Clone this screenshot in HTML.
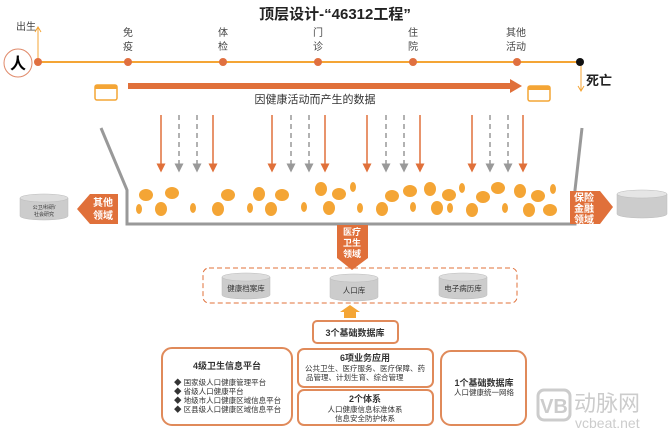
<!DOCTYPE html>
<html><head><meta charset="utf-8"><style>
html,body{margin:0;padding:0;background:#fff;}
svg{display:block;font-family:"Liberation Sans","Noto Sans CJK SC",sans-serif;}
</style></head><body>
<svg width="669" height="435" viewBox="0 0 669 435" xmlns="http://www.w3.org/2000/svg">
<defs>
<marker id="ao" markerWidth="6" markerHeight="6" refX="3" refY="3" orient="auto"><path d="M0,0 L6,3 L0,6z" fill="#e0703a"/></marker>
<marker id="ag" markerWidth="6" markerHeight="6" refX="3" refY="3" orient="auto"><path d="M0,0 L6,3 L0,6z" fill="#999"/></marker>
</defs>
<text x="335" y="19" font-size="15" font-weight="bold" text-anchor="middle" fill="#222">顶层设计-“46312工程”</text>
<!-- timeline -->
<circle cx="18" cy="63" r="14" fill="#fff" stroke="#e08a6a" stroke-width="1"/>
<text x="18" y="69" font-size="16" font-weight="bold" text-anchor="middle">人</text>
<line x1="38" y1="62" x2="578" y2="62" stroke="#f4a535" stroke-width="2"/>
<line x1="38" y1="62" x2="38" y2="28" stroke="#f4a535" stroke-width="1"/>
<path d="M35,32 L38,27 L41,32" fill="none" stroke="#f4a535"/>
<text x="26" y="30" font-size="10" text-anchor="middle" fill="#444">出生</text>
<g fill="#e07040"><circle cx="38" cy="62" r="4"/><circle cx="128" cy="62" r="4"/><circle cx="223" cy="62" r="4"/><circle cx="318" cy="62" r="4"/><circle cx="413" cy="62" r="4"/><circle cx="517" cy="62" r="4"/></g>
<circle cx="580" cy="62" r="4" fill="#111"/>
<g font-size="10" fill="#444" text-anchor="middle">
<text x="128" y="36">免</text><text x="128" y="50">疫</text>
<text x="223" y="36">体</text><text x="223" y="50">检</text>
<text x="318" y="36">门</text><text x="318" y="50">诊</text>
<text x="413" y="36">住</text><text x="413" y="50">院</text>
<text x="516" y="36">其他</text><text x="516" y="50">活动</text>
</g>
<line x1="581" y1="66" x2="581" y2="90" stroke="#f4a535" stroke-width="1"/>
<path d="M578,86 L581,91 L584,86" fill="none" stroke="#f4a535"/>
<text x="586" y="85" font-size="13" font-weight="bold" fill="#222">死亡</text>
<rect x="128" y="83" width="384" height="6" fill="#e0703a"/>
<path d="M510,79 L522,86 L510,93z" fill="#e0703a"/>
<rect x="95" y="85" width="22" height="15" rx="2" fill="#fff" stroke="#f4a535" stroke-width="1.5"/>
<rect x="95" y="85" width="22" height="4" fill="#f4a535"/>
<rect x="528" y="86" width="22" height="15" rx="2" fill="#fff" stroke="#f4a535" stroke-width="1.5"/>
<rect x="528" y="86" width="22" height="4" fill="#f4a535"/>
<text x="315" y="103" font-size="11" text-anchor="middle" fill="#333">因健康活动而产生的数据</text>
<!-- arrows -->
<g stroke="#e0703a" stroke-width="1.5" marker-end="url(#ao)">
<line x1="161" y1="115" x2="161" y2="168"/><line x1="213" y1="115" x2="213" y2="168"/>
<line x1="272" y1="115" x2="272" y2="168"/><line x1="325" y1="115" x2="325" y2="168"/>
<line x1="367" y1="115" x2="367" y2="168"/><line x1="420" y1="115" x2="420" y2="168"/>
<line x1="472" y1="115" x2="472" y2="168"/><line x1="523" y1="115" x2="523" y2="168"/>
</g>
<g stroke="#999" stroke-width="1.5" stroke-dasharray="5,4" marker-end="url(#ag)">
<line x1="179" y1="115" x2="179" y2="168"/><line x1="197" y1="115" x2="197" y2="168"/>
<line x1="291" y1="115" x2="291" y2="168"/><line x1="309" y1="115" x2="309" y2="168"/>
<line x1="386" y1="115" x2="386" y2="168"/><line x1="404" y1="115" x2="404" y2="168"/>
<line x1="490" y1="115" x2="490" y2="168"/><line x1="508" y1="115" x2="508" y2="168"/>
</g>
<!-- bin -->
<path d="M101,128 L127,190 L127,224 L575,224 L575,190 L582,128" fill="none" stroke="#999" stroke-width="3"/>
<g fill="#f4a535">
<ellipse cx="146" cy="195" rx="7" ry="6"/><ellipse cx="172" cy="193" rx="7" ry="6"/><ellipse cx="139" cy="209" rx="3" ry="5"/><ellipse cx="161" cy="209" rx="6" ry="7"/><ellipse cx="193" cy="208" rx="3" ry="5"/>
<ellipse cx="228" cy="195" rx="7" ry="6"/><ellipse cx="218" cy="209" rx="6" ry="7"/><ellipse cx="259" cy="194" rx="6" ry="7"/><ellipse cx="282" cy="195" rx="7" ry="6"/><ellipse cx="250" cy="208" rx="3" ry="5"/><ellipse cx="271" cy="209" rx="6" ry="7"/>
<ellipse cx="321" cy="189" rx="6" ry="7"/><ellipse cx="339" cy="194" rx="7" ry="6"/><ellipse cx="353" cy="187" rx="3" ry="5"/><ellipse cx="304" cy="207" rx="3" ry="5"/><ellipse cx="329" cy="208" rx="6" ry="7"/><ellipse cx="360" cy="208" rx="3" ry="5"/>
<ellipse cx="392" cy="196" rx="7" ry="6"/><ellipse cx="410" cy="191" rx="7" ry="6"/><ellipse cx="430" cy="189" rx="6" ry="7"/><ellipse cx="449" cy="195" rx="7" ry="6"/><ellipse cx="462" cy="188" rx="3" ry="5"/><ellipse cx="382" cy="209" rx="6" ry="7"/><ellipse cx="413" cy="207" rx="3" ry="5"/><ellipse cx="437" cy="208" rx="6" ry="7"/><ellipse cx="450" cy="208" rx="3" ry="5"/>
<ellipse cx="483" cy="197" rx="7" ry="6"/><ellipse cx="498" cy="188" rx="7" ry="6"/><ellipse cx="520" cy="191" rx="6" ry="7"/><ellipse cx="538" cy="196" rx="7" ry="6"/><ellipse cx="553" cy="189" rx="3" ry="5"/><ellipse cx="472" cy="210" rx="6" ry="7"/><ellipse cx="505" cy="208" rx="3" ry="5"/><ellipse cx="529" cy="210" rx="6" ry="7"/><ellipse cx="550" cy="210" rx="7" ry="6"/>
</g>
<!-- side arrows -->
<path d="M118,194 L90,194 L77,209 L90,224 L118,224z" fill="#e0703a"/>
<text x="103" y="206" font-size="10" font-weight="bold" fill="#fff" text-anchor="middle">其他</text>
<text x="103" y="219" font-size="10" font-weight="bold" fill="#fff" text-anchor="middle">领域</text>
<path d="M570,191 L600,191 L613,207 L600,224 L570,224z" fill="#e0703a"/>
<g font-size="10" font-weight="bold" fill="#fff" text-anchor="middle"><text x="584" y="201">保险</text><text x="584" y="212">金融</text><text x="584" y="223">领域</text></g>
<g fill="#ccc" stroke="#bbb" stroke-width="0.5">
<path d="M20,198 L20,216 A24,4 0 0 0 68,216 L68,198"/><ellipse cx="44" cy="198" rx="24" ry="4" fill="#ddd"/>
<path d="M617,194 L617,214 A25,4 0 0 0 667,214 L667,194"/><ellipse cx="642" cy="194" rx="25" ry="4" fill="#e5e5e5"/>
</g>
<text x="44" y="209" font-size="5" text-anchor="middle" fill="#333">公卫/科研/</text>
<text x="44" y="216" font-size="5" text-anchor="middle" fill="#333">社会研究</text>
<path d="M337,225 L368,225 L368,258 L352,270 L337,258z" fill="#e0703a"/>
<g font-size="9" font-weight="bold" fill="#fff" text-anchor="middle"><text x="352" y="235">医疗</text><text x="352" y="246">卫生</text><text x="352" y="257">领域</text></g>
<!-- dashed box -->
<rect x="203" y="268" width="314" height="35" rx="6" fill="none" stroke="#e0703a" stroke-dasharray="5,3"/>
<g fill="#ccc" stroke="#bbb" stroke-width="0.5">
<path d="M222,277 L222,295 A24,4 0 0 0 270,295 L270,277"/><ellipse cx="246" cy="277" rx="24" ry="4" fill="#ddd"/>
<path d="M330,278 L330,297 A24,4 0 0 0 378,297 L378,278"/><ellipse cx="354" cy="278" rx="24" ry="4" fill="#ddd"/>
<path d="M439,277 L439,295 A24,4 0 0 0 487,295 L487,277"/><ellipse cx="463" cy="277" rx="24" ry="4" fill="#ddd"/>
</g>
<g font-size="7.5" fill="#333" text-anchor="middle"><text x="246" y="291">健康档案库</text><text x="354" y="293">人口库</text><text x="463" y="291">电子病历库</text></g>
<path d="M344,318 L344,312 L340,312 L350,305 L360,312 L356,312 L356,318z" fill="#f4a535"/>
<!-- bottom boxes -->
<g fill="#fff" stroke="#e08a5a" stroke-width="2">
<rect x="313" y="321" width="85" height="22" rx="4"/>
<rect x="162" y="348" width="130" height="77" rx="10"/>
<rect x="298" y="349" width="135" height="38" rx="6"/>
<rect x="298" y="390" width="135" height="35" rx="6"/>
<rect x="441" y="351" width="85" height="74" rx="10"/>
</g>
<text x="355" y="336" font-size="9" font-weight="bold" text-anchor="middle" fill="#333">3个基础数据库</text>
<text x="227" y="369" font-size="9" font-weight="bold" text-anchor="middle" fill="#333">4级卫生信息平台</text>
<g font-size="7.5" fill="#333"><text x="174" y="385">◆ 国家级人口健康管理平台</text><text x="174" y="394">◆ 省级人口健康平台</text><text x="174" y="403">◆ 地级市人口健康区域信息平台</text><text x="174" y="412">◆ 区县级人口健康区域信息平台</text></g>
<text x="365" y="361" font-size="9" font-weight="bold" text-anchor="middle" fill="#333">6项业务应用</text>
<text x="365" y="371" font-size="7.5" text-anchor="middle" fill="#333">公共卫生、医疗服务、医疗保障、药</text>
<text x="306" y="380" font-size="7.5" fill="#333">品管理、计划生育、综合管理</text>
<text x="365" y="402" font-size="9" font-weight="bold" text-anchor="middle" fill="#333">2个体系</text>
<text x="365" y="412" font-size="7.5" text-anchor="middle" fill="#333">人口健康信息标准体系</text>
<text x="365" y="421" font-size="7.5" text-anchor="middle" fill="#333">信息安全防护体系</text>
<text x="484" y="386" font-size="9" font-weight="bold" text-anchor="middle" fill="#333">1个基础数据库</text>
<text x="484" y="395" font-size="7.5" text-anchor="middle" fill="#333">人口健康统一网络</text>
<!-- watermark -->
<rect x="538" y="390" width="32" height="30" rx="6" fill="none" stroke="#ccc" stroke-width="3"/>
<text x="554" y="413" font-size="20" font-weight="bold" text-anchor="middle" fill="#ccc">VB</text>
<text x="574" y="411" font-size="22" fill="#ccc">动脉网</text>
<text x="575" y="428" font-size="14" fill="#ccc">vcbeat.net</text>
</svg>
</body></html>
